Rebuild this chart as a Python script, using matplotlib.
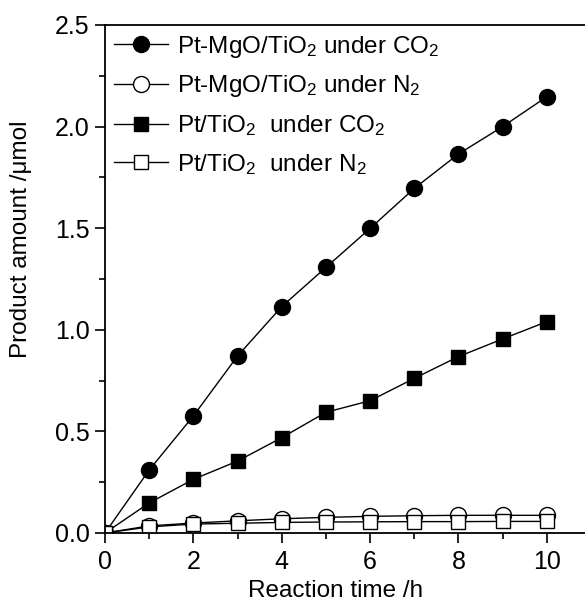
import numpy as np
import matplotlib
matplotlib.use('Agg')
import matplotlib.pyplot as plt
from matplotlib.ticker import MultipleLocator

plt.rcParams['font.family'] = 'Liberation Sans'
plt.rcParams['mathtext.fontset'] = 'custom'
plt.rcParams['mathtext.rm'] = 'Liberation Sans'
plt.rcParams['mathtext.it'] = 'Liberation Sans:italic'

# reaction time (h) and product amounts (umol)
time_h = [0, 1, 2, 3, 4, 5, 6, 7, 8, 9, 10]
mgo_co2 = [0.0, 0.31, 0.576, 0.871, 1.114, 1.307, 1.499, 1.696, 1.865, 2.0, 2.147]
mgo_n2 = [0.0, 0.035, 0.049, 0.06, 0.07, 0.077, 0.082, 0.085, 0.087, 0.087, 0.087]
pt_co2 = [0.0, 0.148, 0.264, 0.354, 0.469, 0.594, 0.651, 0.761, 0.868, 0.955, 1.04]
pt_n2 = [0.0, 0.03, 0.044, 0.048, 0.052, 0.054, 0.055, 0.056, 0.056, 0.057, 0.057]

labels = ['Pt-MgO/TiO$_2$ under CO$_2$',
          'Pt-MgO/TiO$_2$ under N$_2$',
          'Pt/TiO$_2$  under CO$_2$',
          'Pt/TiO$_2$  under N$_2$']

fig = plt.figure(figsize=(5.85, 6.03), dpi=100)
ax = fig.add_axes([105/585, 70/603, 486/585, 508/603])

ax.plot(time_h, mgo_co2, '-o', color='black', mfc='black', mec='black',
        ms=11.5, lw=1.0, label=labels[0])
ax.plot(time_h, mgo_n2, '-o', color='black', mfc='white', mec='black',
        ms=11.5, mew=1.0, lw=1.0, label=labels[1])
ax.plot(time_h, pt_co2, '-s', color='black', mfc='black', mec='black',
        ms=10, lw=1.0, label=labels[2])
ax.plot(time_h, pt_n2, '-s', color='black', mfc='white', mec='black',
        ms=10, mew=1.0, lw=1.0, label=labels[3])

ax.set_xlim(0, 11)
ax.set_ylim(0, 2.5)
ax.xaxis.set_major_locator(MultipleLocator(2))
ax.xaxis.set_minor_locator(MultipleLocator(1))
ax.yaxis.set_major_locator(MultipleLocator(0.5))
ax.yaxis.set_minor_locator(MultipleLocator(0.25))
ax.yaxis.set_major_formatter(plt.FormatStrFormatter('%.1f'))

ax.tick_params(which='major', direction='out', length=7, width=1.2, labelsize=18)
ax.tick_params(which='minor', direction='out', length=4, width=1.2)
ax.tick_params(axis='x', which='major', pad=5)
ax.tick_params(axis='y', which='major', pad=4)
for s in ax.spines.values():
    s.set_linewidth(1.3)
ax.spines['right'].set_visible(False)

ax.set_xlabel('Reaction time /h', fontsize=17.5)
ax.set_ylabel('Product amount /\u03bcmol', fontsize=17.5)
ax.xaxis.set_label_coords(0.475, -0.093)
ax.yaxis.set_label_coords(-0.15, 0.579)

ax.legend(loc='upper left', frameon=False, fontsize=17.5, handlelength=2.26,
          handletextpad=0.37, labelspacing=0.57, borderaxespad=0.15,
          borderpad=0.2)

fig.savefig('out.png', dpi=100)
